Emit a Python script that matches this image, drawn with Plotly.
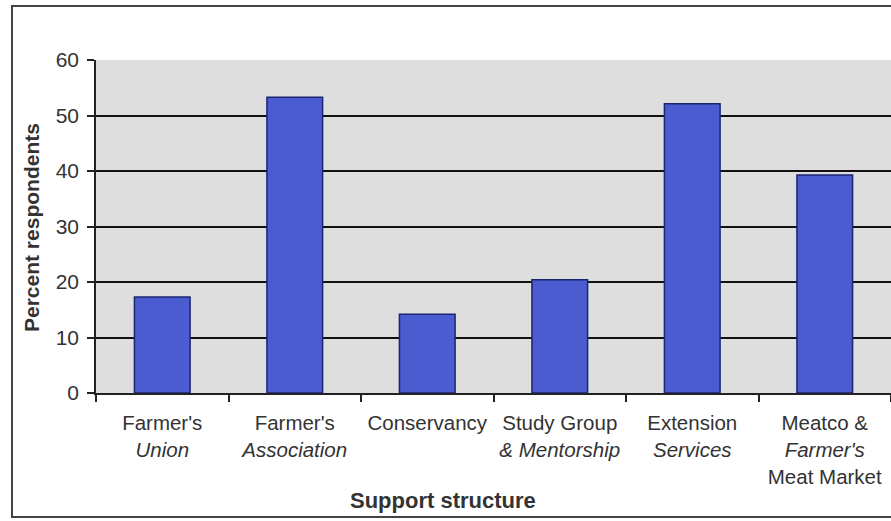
import plotly.graph_objects as go

# Support structures and share of respondents using each (%)
categories = [
    "Farmer's<br><i>Union</i>",
    "Farmer's<br><i>Association</i>",
    "Conservancy",
    "Study Group<br><i>& Mentorship</i>",
    "Extension<br><i>Services</i>",
    "Meatco &<br><i>Farmer's</i><br>Meat Market",
]
percent = [17.3, 53.3, 14.2, 20.4, 52.1, 39.3]
y_ticks = [0, 10, 20, 30, 40, 50, 60]

FONT = "Liberation Sans, Arial, sans-serif"
PLOT_W = 891 - 96
PLOT_H = 393 - 60

fig = go.Figure(
    go.Bar(
        x=categories,
        y=percent,
        marker=dict(color="#4a5ccf", line=dict(color="#1c2570", width=1.5)),
        width=0.42,
    )
)

fig.update_layout(
    width=891,
    height=521,
    margin=dict(l=96, r=0, t=60, b=128, autoexpand=False),
    paper_bgcolor="white",
    plot_bgcolor="#dedede",
    showlegend=False,
    font=dict(family=FONT, size=20, color="#333333"),
)

fig.update_xaxes(
    type="category",
    tickson="boundaries",
    ticks="outside",
    ticklen=7,
    tickcolor="#222222",
    tickwidth=1.5,
    showline=True,
    linecolor="#222222",
    linewidth=1.5,
    showgrid=False,
    tickangle=0,
    automargin=False,
    tickfont=dict(size=20.5, color="#333333"),
    ticklabelstandoff=11,
)

fig.update_yaxes(
    range=[0, 60],
    tickvals=y_ticks,
    ticks="outside",
    ticklen=7,
    tickcolor="#222222",
    tickwidth=1.5,
    showline=True,
    linecolor="#222222",
    linewidth=1.5,
    showgrid=True,
    gridcolor="#111111",
    gridwidth=1.5,
    zeroline=False,
    automargin=False,
    tickfont=dict(size=21, color="#333333"),
    ticklabelstandoff=4,
)

# axis titles
fig.add_annotation(
    text="<b>Percent respondents</b>",
    xref="paper", yref="paper",
    x=-(96 - 32) / PLOT_W, y=(393 - 228) / PLOT_H,
    xanchor="center", yanchor="middle",
    textangle=-90,
    showarrow=False,
    font=dict(size=21, color="#333333"),
)
fig.add_annotation(
    text="<b>Support structure</b>",
    xref="paper", yref="paper",
    x=(443 - 96) / PLOT_W, y=-(500 - 393) / PLOT_H,
    xanchor="center", yanchor="middle",
    showarrow=False,
    font=dict(size=22, color="#333333"),
)

# chart frame
fig.add_shape(
    type="rect",
    xref="paper", yref="paper",
    x0=-(96 - 12) / PLOT_W, x1=1.02,
    y0=-(517 - 393) / PLOT_H, y1=1 + (60 - 6) / PLOT_H,
    line=dict(color="#444444", width=2),
    fillcolor="rgba(0,0,0,0)",
    layer="below",
)

fig.write_html("out.html")
